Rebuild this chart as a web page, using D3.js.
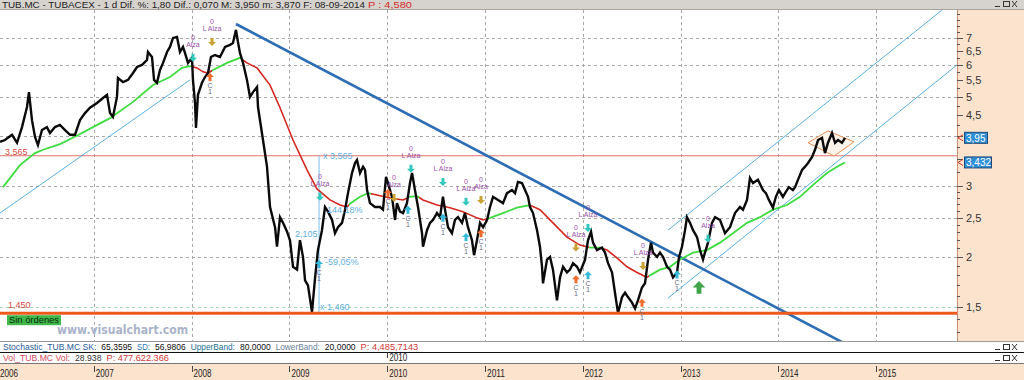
<!DOCTYPE html>
<html>
<head>
<meta charset="utf-8">
<script src="https://cdn.jsdelivr.net/npm/d3@7"></script>
<style>
body{margin:0;background:#fff;overflow:hidden}
svg{display:block}
</style>
</head>
<body>
<div id="chart"></div>
<script>
// ---- price (decimal year / close) ----
const priceDates = [2006.041,2006.092,2006.164,2006.215,2006.266,2006.317,2006.337,2006.368,2006.399,2006.429,2006.470,2006.521,2006.552,2006.603,2006.654,2006.706,2006.757,2006.808,2006.859,2006.910,2006.961,2007.033,2007.094,2007.135,2007.166,2007.196,2007.237,2007.247,2007.299,2007.350,2007.401,2007.442,2007.493,2007.544,2007.554,2007.595,2007.616,2007.646,2007.677,2007.708,2007.749,2007.779,2007.810,2007.851,2007.881,2007.912,2007.933,2007.963,2008.004,2008.014,2008.035,2008.045,2008.065,2008.106,2008.137,2008.168,2008.198,2008.239,2008.290,2008.342,2008.393,2008.423,2008.454,2008.474,2008.495,2008.526,2008.566,2008.597,2008.628,2008.669,2008.679,2008.730,2008.771,2008.802,2008.853,2008.873,2008.904,2008.935,2008.976,2009.006,2009.037,2009.078,2009.108,2009.139,2009.160,2009.190,2009.231,2009.262,2009.282,2009.292,2009.333,2009.364,2009.395,2009.436,2009.466,2009.497,2009.538,2009.569,2009.599,2009.640,2009.671,2009.691,2009.722,2009.753,2009.773,2009.794,2009.824,2009.875,2009.926,2009.957,2009.988,2010.008,2010.049,2010.080,2010.100,2010.131,2010.162,2010.202,2010.233,2010.254,2010.284,2010.315,2010.356,2010.366,2010.407,2010.438,2010.468,2010.509,2010.540,2010.570,2010.591,2010.622,2010.662,2010.693,2010.724,2010.765,2010.795,2010.826,2010.867,2010.888,2010.918,2010.949,2010.980,2011.021,2011.051,2011.082,2011.133,2011.184,2011.225,2011.276,2011.307,2011.337,2011.378,2011.409,2011.440,2011.460,2011.491,2011.532,2011.562,2011.583,2011.593,2011.634,2011.665,2011.695,2011.736,2011.767,2011.798,2011.838,2011.869,2011.900,2011.941,2011.971,2012.023,2012.053,2012.084,2012.104,2012.145,2012.196,2012.227,2012.258,2012.299,2012.329,2012.360,2012.401,2012.432,2012.462,2012.503,2012.534,2012.564,2012.605,2012.636,2012.667,2012.697,2012.718,2012.759,2012.789,2012.820,2012.861,2012.892,2012.922,2012.963,2012.984,2013.014,2013.045,2013.065,2013.096,2013.127,2013.168,2013.198,2013.229,2013.249,2013.280,2013.321,2013.352,2013.403,2013.454,2013.505,2013.556,2013.607,2013.638,2013.679,2013.709,2013.740,2013.791,2013.842,2013.872,2013.903,2013.944,2013.974,2014.005,2014.046,2014.076,2014.107,2014.148,2014.170,2014.201,2014.242,2014.272,2014.303,2014.344,2014.374,2014.405,2014.446,2014.476,2014.507,2014.548,2014.579,2014.609,2014.650,2014.681];
const priceValues = [3.86,3.90,4.02,3.84,4.20,4.71,5.13,4.37,3.97,3.79,4.13,4.20,4.06,4.20,4.25,4.13,4.02,4.02,4.37,4.55,4.69,4.82,4.96,5.05,4.55,4.45,4.99,5.56,5.43,5.50,5.72,5.92,5.99,6.16,6.45,6.27,5.50,5.41,5.82,6.06,6.45,6.64,6.99,7.03,6.45,6.64,6.41,6.06,6.24,5.50,4.82,4.18,5.05,5.41,5.59,5.72,6.27,6.34,6.27,6.64,6.72,6.79,7.32,6.83,6.41,6.06,5.50,4.99,5.13,5.28,4.71,3.90,3.35,2.66,2.37,2.12,2.51,2.43,2.31,2.20,1.89,1.86,2.20,2.00,1.75,1.70,1.46,1.77,1.97,2.08,2.33,2.66,2.59,2.47,2.29,2.37,2.43,2.62,2.88,3.23,3.42,3.48,3.23,3.35,3.29,2.93,2.72,2.66,2.66,2.62,3.16,3.05,2.82,2.47,2.72,2.59,2.57,2.72,3.05,3.23,2.93,2.66,2.29,2.12,2.33,2.43,2.47,2.57,2.51,2.82,2.62,2.37,2.29,2.47,2.51,2.43,2.57,2.37,2.20,2.02,2.20,2.43,2.37,2.47,2.66,2.82,2.77,2.72,2.88,2.93,2.88,3.07,3.05,2.93,2.82,2.66,2.57,2.33,2.12,1.89,1.72,1.97,2.00,1.86,1.56,1.78,1.89,1.83,1.86,1.93,1.89,1.83,1.97,2.20,2.31,2.17,2.08,2.11,2.05,1.93,1.83,1.63,1.45,1.59,1.63,1.59,1.54,1.49,1.56,1.68,1.72,1.97,2.17,2.05,2.00,2.05,2.00,1.89,1.86,1.78,1.83,2.00,2.12,2.33,2.51,2.43,2.33,2.24,2.08,1.97,2.05,2.17,2.43,2.51,2.47,2.29,2.37,2.57,2.66,2.62,2.77,3.14,3.05,3.11,2.93,2.88,2.77,2.65,2.82,2.93,2.82,2.90,2.98,2.93,2.98,3.11,3.29,3.35,3.42,3.54,3.69,3.90,3.95,3.62,3.84,4.06,3.84,3.90,3.84,3.95];

// ---- moving average (green above / red below) ----
const maDates = [2006.072,2006.245,2006.399,2006.481,2006.654,2006.787,2006.992,2007.166,2007.401,2007.606,2007.779,2007.902,2007.984,2008.055,2008.117,2008.168,2008.219,2008.362,2008.495,2008.566,2008.669,2008.802,2008.904,2009.037,2009.180,2009.282,2009.415,2009.518,2009.589,2009.619,2009.722,2009.804,2009.896,2010.029,2010.162,2010.233,2010.305,2010.366,2010.509,2010.642,2010.775,2010.918,2010.980,2011.051,2011.184,2011.327,2011.460,2011.562,2011.695,2011.838,2011.971,2012.073,2012.176,2012.247,2012.349,2012.452,2012.554,2012.656,2012.687,2012.789,2012.892,2012.994,2013.127,2013.270,2013.403,2013.536,2013.679,2013.812,2013.944,2014.088,2014.221,2014.354,2014.497,2014.630,2014.681];
const maValues = [2.98,3.38,3.62,3.69,3.81,3.95,4.20,4.42,4.85,5.34,5.59,5.89,5.95,5.89,5.76,5.72,5.82,6.06,6.24,6.06,5.89,5.34,4.69,3.90,3.29,2.95,2.77,2.69,2.66,2.71,2.82,2.88,2.85,2.80,2.77,2.82,2.83,2.77,2.69,2.65,2.59,2.50,2.47,2.50,2.57,2.65,2.69,2.62,2.43,2.24,2.14,2.11,2.11,2.08,1.99,1.89,1.83,1.78,1.80,1.86,1.89,1.97,2.05,2.08,2.17,2.29,2.43,2.51,2.62,2.69,2.82,3.02,3.23,3.38,3.432];
// periods where price is under the average (drawn red)
const maBelowStart = [2007.994,2008.526,2009.834,2010.325,2011.470,2012.217];
const maBelowEnd   = [2008.209,2009.609,2010.202,2011.031,2012.063,2012.677];

// ---- drawn objects ----
const levelValues = [3.565, 1.45];
const trendDates = [2008.454, 2014.088];      // main downtrend
const trendPrices = [7.57, 1.45];
const channelDates = [[2006.041, 2007.984], [2012.871, 2015.673], [2012.871, 2015.826]];
const channelPrices = [[2.57, 5.50], [2.33, 8.20], [1.58, 5.99]];
const diamondDates = [2014.303, 2014.507, 2014.773, 2014.569];
const diamondPrices = [3.84, 4.11, 3.86, 3.56];
const measureDate = 2009.303;
const measurePrices = [3.565, 1.46];

// ---- trading system signals ----
const signalDates = [2008.014,2008.209,2008.188,2009.313,2009.303,2010.008,2010.070,2010.243,2010.212,2010.570,2010.570,2010.806,2010.806,2010.959,2010.959,2011.930,2011.930,2012.053,2012.053,2012.616,2012.605,2012.963,2013.188,2013.280];
const signalPrices = [6.24,6.83,5.59,2.82,1.92,2.88,2.80,3.31,2.62,3.07,2.50,2.74,2.24,2.77,2.29,2.11,1.76,2.36,1.80,1.90,1.54,1.81,1.68,2.22];
const signalKinds = ["inTeal","inGold","outOrange","inTeal","outTeal","outOrange","inGold","inTeal","outTeal","inTeal","outTeal","inTeal","outTeal","inGold","outOrange","inGold","outOrange","inTeal","outTeal","inGold","outOrange","outTeal","bigGreen","inTeal"];
const signalLabels = ["Alza","L Alza","","L Alza","","","Alza","L Alza","","L Alza","","L Alza","","Alza","","L Alza","","L Alza","","L Alza","","","","Alza"];

// ---- axes ----
const yearTicks = [2006,2007,2008,2009,2010,2011,2012,2013,2014,2015];
const priceTicks = [1.5,2,2.5,3,3.5,4,4.5,5,5.5,6,6.5,7];
const priceMinorTicks = [1.3,1.4,1.6,1.7,1.8,1.9,2.1,2.2,2.3,2.4,2.6,2.7,2.8,2.9,3.25,3.75,4.25,4.75,5.25,5.75,6.25,6.75,7.25,7.5,7.75,8];
const gridPrices = [1.5,2,2.5,3,4,5,6,7];
const lastTags = [3.95, 3.432];

const headerText = "TUB.MC - TUBACEX -  1 d Dif. %: 1,80 Dif.: 0,070 M: 3,950 m: 3,870 F: 08-09-2014";
const headerPrice = "P : 4,580";
const stochParts = [["Stochastic_TUB.MC SK:", "#2a5d9a"], [" 65,3595 ", "#111"], ["SD:", "#2a7ab0"], [" 56,9806 ", "#111"], ["UpperBand:", "#1c6f8f"], [" 80,0000 ", "#111"], ["LowerBand:", "#6a7f99"], [" 20,0000 ", "#111"], ["P: 4,485,7143", "#d23a3a"]];
const volParts = [["Vol_TUB.MC Vol:", "#d04a5a"], [" 28.938 ", "#333"], ["P: 477.622.366", "#d23a3a"]];

const W = 1024, H = 380;
const PLOT = {LEFT: 0, RIGHT: 957, TOP: 10, BOTTOM: 341};
const FONT = "'Liberation Sans', Arial, sans-serif";

const svg = d3.select("#chart").append("svg")
    .attr("width", W).attr("height", H)
    .style("font-family", FONT);

const x = d3.scaleLinear().domain([2006.041, 2015.826]).range([PLOT.LEFT, PLOT.RIGHT]);
const y = d3.scaleLog().domain([1.237, 8.2]).range([PLOT.BOTTOM, PLOT.TOP]);

const defs = svg.append("defs");
defs.append("clipPath").attr("id", "plotClip")
    .append("rect").attr("x", PLOT.LEFT).attr("y", PLOT.TOP)
    .attr("width", PLOT.RIGHT - PLOT.LEFT).attr("height", PLOT.BOTTOM - PLOT.TOP);
const redClip = defs.append("clipPath").attr("id", "redClip");
maBelowStart.forEach((s, i) => {
    redClip.append("rect").attr("x", x(s)).attr("y", PLOT.TOP)
        .attr("width", x(maBelowEnd[i]) - x(s)).attr("height", PLOT.BOTTOM - PLOT.TOP);
});
const greenClip = defs.append("clipPath").attr("id", "greenClip");
const greenEdges = [2006].concat(maBelowEnd);
greenEdges.forEach((s, i) => {
    const e = i < maBelowStart.length ? maBelowStart[i] : 2016;
    greenClip.append("rect").attr("x", x(s)).attr("y", PLOT.TOP)
        .attr("width", x(e) - x(s)).attr("height", PLOT.BOTTOM - PLOT.TOP);
});

// backgrounds
svg.append("rect").attr("width", W).attr("height", H).attr("fill", "#fff");
svg.append("rect").attr("x", PLOT.RIGHT).attr("y", PLOT.TOP).attr("width", W - PLOT.RIGHT)
    .attr("height", PLOT.BOTTOM - PLOT.TOP).attr("fill", "#fce3cd");
svg.append("line").attr("x1", PLOT.RIGHT + 0.5).attr("x2", PLOT.RIGHT + 0.5)
    .attr("y1", PLOT.TOP).attr("y2", PLOT.BOTTOM).attr("stroke", "#c98f74");

// header bar
const hdr = svg.append("g");
hdr.append("rect").attr("width", W).attr("height", PLOT.TOP).attr("fill", "#d6d3ce");
hdr.append("line").attr("x1", 0).attr("x2", W).attr("y1", PLOT.TOP - 0.5).attr("y2", PLOT.TOP - 0.5).attr("stroke", "#a8a5a0");
hdr.append("text").attr("x", 2).attr("y", 8).attr("font-size", 9).attr("fill", "#222")
    .attr("textLength", 363).attr("lengthAdjust", "spacingAndGlyphs").text(headerText);
hdr.append("text").attr("x", 368).attr("y", 8).attr("font-size", 9).attr("fill", "#d42c2c")
    .attr("textLength", 44).attr("lengthAdjust", "spacingAndGlyphs").text(headerPrice);

function winButtons(g, bx, by) {
    g.append("line").attr("x1", bx).attr("x2", bx + 5).attr("y1", by + 5.5).attr("y2", by + 5.5).attr("stroke", "#333");
    g.append("rect").attr("x", bx + 8.5).attr("y", by + 0.5).attr("width", 6).attr("height", 5).attr("fill", "none").attr("stroke", "#333");
    g.append("path").attr("d", `M${bx + 17},${by} L${bx + 22},${by + 6} M${bx + 22},${by} L${bx + 17},${by + 6}`).attr("stroke", "#333");
}
winButtons(hdr, 995, 1);

// grid
const grid = svg.append("g").attr("clip-path", "url(#plotClip)");
grid.selectAll("line.h").data(gridPrices).join("line").attr("class", "h")
    .attr("x1", PLOT.LEFT).attr("x2", PLOT.RIGHT)
    .attr("y1", d => Math.round(y(d)) + 0.5).attr("y2", d => Math.round(y(d)) + 0.5)
    .attr("stroke", d => d === 1.5 ? "#9fd9b8" : "#a9a9a9").attr("stroke-dasharray", "3,3");
grid.selectAll("line.v").data(yearTicks.slice(1)).join("line").attr("class", "v")
    .attr("x1", d => Math.round(x(d)) + 0.5).attr("x2", d => Math.round(x(d)) + 0.5)
    .attr("y1", PLOT.TOP).attr("y2", PLOT.BOTTOM)
    .attr("stroke", "#a9a9a9").attr("stroke-dasharray", "3,3");

const plot = svg.append("g").attr("clip-path", "url(#plotClip)");

// horizontal levels
plot.append("line").attr("x1", PLOT.LEFT).attr("x2", PLOT.RIGHT)
    .attr("y1", y(levelValues[0])).attr("y2", y(levelValues[0]))
    .attr("stroke", "#e2706a").attr("stroke-width", 1);

// channels
const logLine = d3.line().x(d => x(d[0])).y(d => y(d[1]));
channelDates.forEach((ds, i) => {
    plot.append("path").attr("d", logLine([[ds[0], channelPrices[i][0]], [ds[1], channelPrices[i][1]]]))
        .attr("fill", "none").attr("stroke", "#4aa6dc").attr("stroke-width", 0.9);
});

// diamond
plot.append("path")
    .attr("d", logLine(diamondDates.map((d, i) => [d, diamondPrices[i]])) + "Z")
    .attr("fill", "#fff4ea").attr("stroke", "#e0925a").attr("stroke-width", 1);

// measurement
plot.append("line").attr("x1", x(measureDate)).attr("x2", x(measureDate))
    .attr("y1", y(measurePrices[0])).attr("y2", y(measurePrices[1]))
    .attr("stroke", "#7dc0ea").attr("stroke-width", 1);

// downtrend (extend in log space to bottom)
const tSlope = (Math.log(trendPrices[1]) - Math.log(trendPrices[0])) / (trendDates[1] - trendDates[0]);
const tEnd = trendDates[1] + (Math.log(1.2) - Math.log(trendPrices[1])) / tSlope;
plot.append("path")
    .attr("d", logLine([[trendDates[0], trendPrices[0]], [tEnd, 1.2]]))
    .attr("fill", "none").attr("stroke", "#2d6db3").attr("stroke-width", 2.6);

// moving average
const maPts = maDates.map((d, i) => [d, maValues[i]]);
plot.append("g").attr("clip-path", "url(#greenClip)")
    .append("path").attr("d", logLine(maPts)).attr("fill", "none")
    .attr("stroke", "#3fdc3f").attr("stroke-width", 1.8);
plot.append("g").attr("clip-path", "url(#redClip)")
    .append("path").attr("d", logLine(maPts)).attr("fill", "none")
    .attr("stroke", "#d42820").attr("stroke-width", 1.6);

// price
const pricePts = priceDates.map((d, i) => [d, priceValues[i]]);
plot.append("path").attr("d", logLine(pricePts)).attr("fill", "none")
    .attr("stroke", "#0a0a0a").attr("stroke-width", 2.4).attr("stroke-linejoin", "miter");

// 1,450 support
plot.append("line").attr("x1", PLOT.LEFT).attr("x2", PLOT.RIGHT)
    .attr("y1", y(levelValues[1])).attr("y2", y(levelValues[1]))
    .attr("stroke", "#ee5a1c").attr("stroke-width", 3);

// signals
const sigColors = {inTeal: "#34c7bd", outTeal: "#34b9d8", inGold: "#c9a233", outOrange: "#f06d2e", bigGreen: "#3fa548"};
const sig = plot.append("g");
signalKinds.forEach((k, i) => {
    const cx = x(signalDates[i]), cy = y(signalPrices[i]);
    const c = sigColors[k];
    const s = k === "bigGreen" ? 1.6 : 1;
    const down = k.startsWith("in");
    const dir = down ? 1 : -1;
    const pts = [[-1.5, -4], [1.5, -4], [1.5, 0], [4, 0], [0, 4], [-4, 0], [-1.5, 0]]
        .map(p => [cx + p[0] * s, cy + p[1] * s * dir]);
    sig.append("polygon").attr("points", pts.map(p => p.join(",")).join(" ")).attr("fill", c);
    if (down) {
        sig.append("text").attr("x", cx).attr("y", cy - 11).attr("text-anchor", "middle")
            .attr("font-size", 7).attr("fill", "#9a4fa6").text(signalLabels[i]);
        sig.append("text").attr("x", cx).attr("y", cy - 18).attr("text-anchor", "middle")
            .attr("font-size", 7).attr("fill", "#9a4fa6").text("0");
    } else if (k !== "bigGreen") {
        sig.append("text").attr("x", cx).attr("y", cy + 11).attr("text-anchor", "middle")
            .attr("font-size", 7).attr("fill", "#6a6a8a").text("C");
        sig.append("text").attr("x", cx).attr("y", cy + 17).attr("text-anchor", "middle")
            .attr("font-size", 7).attr("fill", "#6a6a8a").text("1");
    }
});

// measurement labels
const mx = x(measureDate);
const mlab = plot.append("g").attr("font-size", 9).attr("fill", "#5fb0e0");
mlab.append("text").attr("x", mx + 4).attr("y", y(measurePrices[0]) + 3).text("x 3,565");
mlab.append("text").attr("x", mx + 1).attr("y", y(measurePrices[1]) - 2).text("x 1,460");
mlab.append("text").attr("x", mx - 24).attr("y", (y(measurePrices[0]) + y(measurePrices[1])) / 2 + 3).text("2,105");
mlab.append("text").attr("x", mx + 8).attr("y", y(measurePrices[0]) + 57).text("144,18%");
mlab.append("text").attr("x", mx + 6).attr("y", y(measurePrices[1]) - 47).text("-59,05%");

// level labels
svg.append("text").attr("x", 5).attr("y", y(levelValues[0]) - 1).attr("font-size", 9)
    .attr("fill", "#d24a44").text("3,565");
svg.append("text").attr("x", 8).attr("y", y(levelValues[1]) - 5).attr("font-size", 9)
    .attr("fill", "#d24a44").text("1,450");
svg.append("rect").attr("x", 7).attr("y", y(levelValues[1]) + 2).attr("width", 54).attr("height", 10)
    .attr("fill", "#3fb94a");
svg.append("text").attr("x", 9).attr("y", y(levelValues[1]) + 10).attr("font-size", 9)
    .attr("fill", "#0d2a0d").attr("textLength", 50).attr("lengthAdjust", "spacingAndGlyphs").text("Sin órdenes");
svg.append("text").attr("x", 57).attr("y", 334).attr("font-size", 12).attr("font-weight", "bold")
    .attr("font-family", "'DejaVu Sans', Verdana, sans-serif")
    .attr("fill", "#aab3c9").attr("textLength", 131).attr("lengthAdjust", "spacingAndGlyphs")
    .text("www.visualchart.com");

// right price axis (labels under the value tags are hidden, as in the source)
const hiddenLabels = [3.5, 4];
const ax = svg.append("g");
ax.selectAll("line.mj").data(priceTicks).join("line").attr("class", "mj")
    .attr("x1", PLOT.RIGHT).attr("x2", PLOT.RIGHT + 6)
    .attr("y1", d => Math.round(y(d)) + 0.5).attr("y2", d => Math.round(y(d)) + 0.5).attr("stroke", "#555");
ax.selectAll("line.mn").data(priceMinorTicks.filter(d => y(d) > PLOT.TOP && y(d) < PLOT.BOTTOM)).join("line").attr("class", "mn")
    .attr("x1", PLOT.RIGHT).attr("x2", PLOT.RIGHT + 3)
    .attr("y1", d => Math.round(y(d)) + 0.5).attr("y2", d => Math.round(y(d)) + 0.5).attr("stroke", "#555");
ax.selectAll("text").data(priceTicks.filter(d => !hiddenLabels.includes(d))).join("text")
    .attr("x", PLOT.RIGHT + 9).attr("y", d => y(d) + 4)
    .attr("font-size", 11).attr("fill", "#333")
    .text(d => String(d).replace(".", ","));

// last value tags
lastTags.forEach((v, i) => {
    const ty = y(v);
    const label = String(v).replace(".", ",");
    const wdt = i === 0 ? 23 : 27;
    svg.append("path").attr("d", `M${PLOT.RIGHT + 6},${ty - 3} L${PLOT.RIGHT + 1},${ty} L${PLOT.RIGHT + 6},${ty + 3}`)
        .attr("fill", "none").attr("stroke", "#d83a2a");
    svg.append("rect").attr("x", PLOT.RIGHT + 7.5).attr("y", ty - 5.5).attr("width", wdt).attr("height", 11)
        .attr("fill", "#2f8fd6").attr("stroke", "#1f4a78");
    svg.append("text").attr("x", PLOT.RIGHT + 9).attr("y", ty + 4).attr("font-size", 10)
        .attr("fill", "#fff").text(label);
});

// lower strips
const lower = svg.append("g");
lower.append("rect").attr("x", 0).attr("y", PLOT.BOTTOM).attr("width", W).attr("height", 22).attr("fill", "#fff");
lower.append("line").attr("x1", 0).attr("x2", W).attr("y1", PLOT.BOTTOM + 0.5).attr("y2", PLOT.BOTTOM + 0.5).attr("stroke", "#9a9a9a");
lower.append("line").attr("x1", 0).attr("x2", W).attr("y1", 352.5).attr("y2", 352.5).attr("stroke", "#111");
lower.append("line").attr("x1", 0).attr("x2", W).attr("y1", 363.5).attr("y2", 363.5).attr("stroke", "#777");
lower.append("rect").attr("x", 0).attr("y", 364).attr("width", W).attr("height", H - 364).attr("fill", "#fce3cd");

// strip texts: parts laid out by character count, spaces only as gaps
function partsText(g, parts, x0, yb, cw) {
    let cx = x0;
    parts.forEach(p => {
        const lead = p[0].length - p[0].trimStart().length;
        const txt = p[0].trim();
        g.append("text").attr("x", cx + lead * cw).attr("y", yb).attr("font-size", 9).attr("fill", p[1])
            .attr("textLength", txt.length * cw - 0.5).attr("lengthAdjust", "spacingAndGlyphs").text(txt);
        cx += p[0].length * cw;
    });
}
partsText(lower, stochParts, 3, 350, 4.47);
partsText(lower, volParts, 3, 361, 4.5);
winButtons(lower, 995, 344);
winButtons(lower, 995, 355);

// x axis years
const xa = svg.append("g");
xa.selectAll("line").data(yearTicks).join("line")
    .attr("x1", d => Math.round(x(d)) + 0.5).attr("x2", d => Math.round(x(d)) + 0.5)
    .attr("y1", 366).attr("y2", 372).attr("stroke", "#444");
xa.selectAll("text").data(yearTicks).join("text")
    .attr("x", d => Math.max(0, x(d) + 2)).attr("y", 377).attr("font-size", 10).attr("fill", "#222")
    .attr("textLength", 18).attr("lengthAdjust", "spacingAndGlyphs").text(d => d);
// the 2010 label also shows in the volume strip
xa.append("line").attr("x1", Math.round(x(2010)) + 0.5).attr("x2", Math.round(x(2010)) + 0.5)
    .attr("y1", 353).attr("y2", 358).attr("stroke", "#444");
xa.append("text").attr("x", x(2010) + 2).attr("y", 361).attr("font-size", 10).attr("fill", "#222")
    .attr("textLength", 18).attr("lengthAdjust", "spacingAndGlyphs").text(2010);
</script>
</body>
</html>
